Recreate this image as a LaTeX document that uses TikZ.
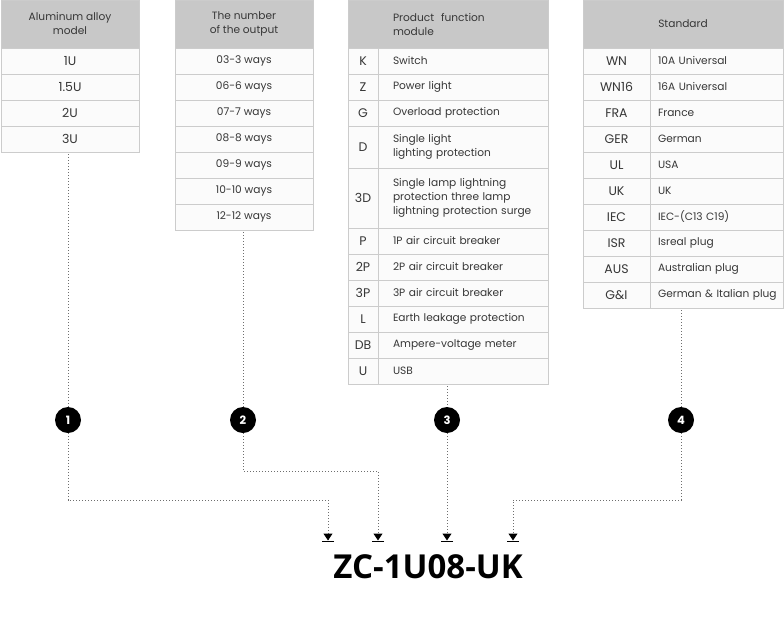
\documentclass[tikz,border=0pt]{standalone}
\usepackage{fontspec}
\setmainfont{Poppins}
\newfontfamily\codefont{Open Sans}
\usetikzlibrary{positioning,arrows.meta}
\definecolor{headgray}{RGB}{200,200,200}
\definecolor{rulegray}{RGB}{204,204,204}
\definecolor{cellwhite}{RGB}{251,251,251}
\definecolor{textgray}{RGB}{55,55,55}
\definecolor{dotgray}{RGB}{110,110,110}
\begin{document}
\begin{tikzpicture}[
        x=1pt, y=-1pt,
        node distance=0pt,
        font=\fontsize{10.6}{14}\selectfont,
        base/.style={rectangle, draw=rulegray, line width=1pt, text=textgray, inner sep=0pt, outer sep=0pt},
        head/.style={base, fill=headgray, minimum width=#1, minimum height=48pt, align=center},
        cell/.style={base, fill=cellwhite, minimum width=#1, minimum height=26pt},
        key/.style={cell=#1, font=\fontsize{12.5}{14}\selectfont},
        desc/.style 2 args={cell=#1, text width=#2, align=left},
        badge/.style={circle, fill=black, text=white, minimum size=26pt, inner sep=0pt, font=\bfseries\fontsize{11.5}{12}\selectfont},
        link/.style={dotgray, line width=1pt, dash pattern=on 1pt off 2pt, -{Triangle[width=9pt, length=7pt, black] Bar[width=12pt, line width=1.5pt, black]}},
        code/.style={font=\codefont\bfseries\fontsize{33}{36}\selectfont, text=black}
    ]
    \useasboundingbox (0,0) rectangle (784,635);

    \node[head=138pt] (t1-0) at (70,24) {Aluminum alloy\\model};
    \foreach \v [count=\i, remember=\i as \j (initially 0)] in {1U,1.5U,2U,3U}
        \node[key=138pt, below=of t1-\j] (t1-\i) {\v};

    \node[head=138pt] (t2-0) at (244,24) {The number\\of the output};
    \foreach \v [count=\i, remember=\i as \j (initially 0)] in {03-3 ways,06-6 ways,07-7 ways,08-8 ways,09-9 ways,10-10 ways,12-12 ways}
        \node[cell=138pt, below=of t2-\j] (t2-\i) {\v};

    \node[head=200pt, text width=110pt, inner xsep=45pt, align=left] (k3-0) at (448,24) {Product\ \ function\\module};
    \foreach \k/\d/\h [count=\i, remember=\i as \j (initially 0)] in {
            K/Switch/26, Z/Power light/26, G/Overload protection/26,
            D/{Single light\\lighting protection}/42,
            3D/{Single lamp lightning\\protection three lamp\\\mbox{lightning protection surge}}/60,
            P/1P air circuit breaker/26, 2P/2P air circuit breaker/26, 3P/3P air circuit breaker/26,
            L/Earth leakage protection/26, DB/Ampere-voltage meter/26, U/USB/26} {
        \node[key=30pt, minimum height=\h pt, below=of k3-\j.south west, anchor=north west] (k3-\i) {\k};
        \node[desc={170pt}{140pt}, inner xsep=15pt, minimum height=\h pt, right=of k3-\i] (d3-\i) {\d};
    }

    \node[head=200pt] (k4-0) at (683,24) {Standard};
    \foreach \k/\d [count=\i, remember=\i as \j (initially 0)] in {
            WN/10A Universal, WN16/16A Universal, FRA/France, GER/German, UL/USA,
            UK/UK, IEC/IEC-(C13 C19), ISR/Isreal plug, AUS/Australian plug, G\&I/\mbox{German \& Italian plug}} {
        \node[key=67pt, below=of k4-\j.south west, anchor=north west] (k4-\i) {\k};
        \node[desc={133pt}{117pt}, inner xsep=8pt, right=of k4-\i] (d4-\i) {\d};
    }

    \node[badge] (c1) at (68,420) {1};
    \node[badge] (c2) at (243,420) {2};
    \node[badge] (c3) at (447,420) {3};
    \node[badge] (c4) at (681,420) {4};

    \coordinate (a1) at (328,542);
    \coordinate (a2) at (378,542);
    \coordinate (a3) at (447,542);
    \coordinate (a4) at (513,542);

    \node[code] (model) at (428,567) {ZC-1U08-UK};

    \draw[link, -] (c1 |- t1-4.south) ++(0,2) -- (c1);
    \draw[link, -] (c2 |- t2-7.south) ++(0,2) -- (c2);
    \draw[link, -] (c3 |- d3-11.south) ++(0,2) -- (c3);
    \draw[link, -] (c4 |- d4-10.south) ++(0,2) -- (c4);

    \draw[link] (c1) -- ++(0,80) -| (a1);
    \draw[link] (c2) -- ++(0,51) -| (a2);
    \draw[link] (c3) -- (a3);
    \draw[link] (c4) -- ++(0,80) -| (a4);
\end{tikzpicture}
\end{document}
